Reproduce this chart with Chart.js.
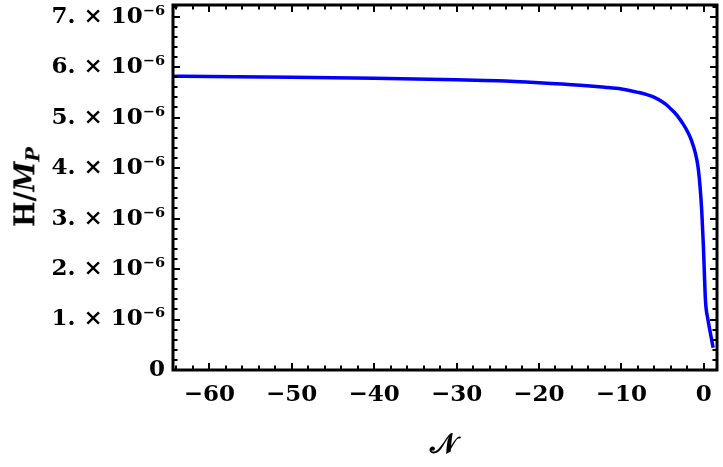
<!DOCTYPE html>
<html>
<head>
<meta charset="utf-8">
<script src="https://cdn.jsdelivr.net/npm/chart.js@4.4.1/dist/chart.umd.min.js"></script>
<style>
html,body{margin:0;padding:0;background:#fff;}
#wrap{position:relative;width:723px;height:467px;overflow:hidden;}
#c{position:absolute;left:0;top:0;}
.ytitle{position:absolute;left:27px;top:187px;transform:translate(-50%,-50%) rotate(-90deg);font-family:"DejaVu Serif";font-weight:bold;font-size:27px;white-space:nowrap;color:#000;line-height:1;}
.ytitle sub{font-size:0.72em;vertical-align:-0.25em;}
.xtitle{position:absolute;left:443px;top:444px;transform:translate(-50%,-50%);font-family:"DejaVu Serif";font-weight:bold;font-size:28px;color:#000;line-height:1;}
</style>
</head>
<body>
<div id="wrap">
<canvas id="c" width="723" height="467"></canvas>
<div class="ytitle">H/<i>M</i><sub><i>P</i></sub></div>
<div class="xtitle">𝒩</div>
</div>
<script>
// ---- data ----
const N_VALUES = [-64.4, -60, -50, -40, -30, -25, -20, -15, -12, -10, -8, -7, -6, -5, -4.5, -4, -3.5, -3, -2.5, -2, -1.5, -1.0, -0.7, -0.45, -0.25, -0.05, 0.2, 0.5, 0.8, 1.13];
const H_VALUES = [5.82e-6, 5.815e-6, 5.80e-6, 5.78e-6, 5.75e-6, 5.73e-6, 5.69e-6, 5.64e-6, 5.60e-6, 5.565e-6, 5.50e-6, 5.46e-6, 5.40e-6, 5.31e-6, 5.25e-6, 5.17e-6, 5.09e-6, 4.99e-6, 4.87e-6, 4.73e-6, 4.55e-6, 4.28e-6, 4.02e-6, 3.62e-6, 3.15e-6, 2.45e-6, 1.38e-6, 1.00e-6, 0.73e-6, 0.44e-6];
const X_TICK_VALUES = [-60, -50, -40, -30, -20, -10, 0];
const X_TICK_LABELS = ['−60', '−50', '−40', '−30', '−20', '−10', '0'];
const Y_TICK_VALUES = [0, 1, 2, 3, 4, 5, 6, 7]; // in units of 1e-6
const Y_TICK_LABELS = ['0', '1. × 10⁻⁶', '2. × 10⁻⁶', '3. × 10⁻⁶', '4. × 10⁻⁶', '5. × 10⁻⁶', '6. × 10⁻⁶', '7. × 10⁻⁶'];
const X_RANGE = [-64.4, 1.6];
const Y_RANGE = [0, 7.23e-6];
const X_MINOR_STEP = 2;
const Y_MINOR_STEP = 0.2e-6;

const tickFont = {family: 'DejaVu Serif', weight: 'bold', size: 23};

const frameTicks = {
  id: 'frameTicks',
  afterDatasetsDraw(chart) {
    const {ctx, chartArea: a, scales: {x, y}} = chart;
    ctx.save();
    ctx.strokeStyle = '#000';
    ctx.lineWidth = 2;
    ctx.beginPath();
    const kx0 = Math.ceil(X_RANGE[0] / X_MINOR_STEP), kx1 = Math.floor(X_RANGE[1] / X_MINOR_STEP);
    for (let k = kx0; k <= kx1; k++) {
      const v = k * X_MINOR_STEP;
      const px = Math.round(x.getPixelForValue(v));
      const len = (v % 10 === 0) ? 7 : 4.5;
      ctx.moveTo(px, a.bottom); ctx.lineTo(px, a.bottom - len);
      ctx.moveTo(px, a.top); ctx.lineTo(px, a.top + len);
    }
    const ky1 = Math.floor(Y_RANGE[1] / Y_MINOR_STEP + 1e-6);
    for (let k = 0; k <= ky1; k++) {
      const py = Math.round(y.getPixelForValue(k * Y_MINOR_STEP));
      const len = (k % 5 === 0) ? 7 : 4.5;
      ctx.moveTo(a.left, py); ctx.lineTo(a.left + len, py);
      ctx.moveTo(a.right, py); ctx.lineTo(a.right - len, py);
    }
    ctx.stroke();
    ctx.lineWidth = 3;
    ctx.strokeRect(a.left, a.top, a.right - a.left, a.bottom - a.top);
    ctx.restore();
  }
};

new Chart(document.getElementById('c'), {
  type: 'line',
  data: {
    datasets: [{
      data: N_VALUES.map((n, i) => ({x: n, y: H_VALUES[i]})),
      borderColor: 'rgb(0,0,255)',
      borderWidth: 3.5,
      pointRadius: 0,
      fill: false,
      cubicInterpolationMode: 'monotone'
    }]
  },
  options: {
    responsive: false,
    animation: false,
    devicePixelRatio: 1,
    layout: {padding: {top: 5, right: 6, left: 0, bottom: 0}},
    plugins: {legend: {display: false}, tooltip: {enabled: false}},
    scales: {
      x: {
        type: 'linear',
        min: X_RANGE[0], max: X_RANGE[1],
        grid: {display: false, drawTicks: false},
        border: {display: false},
        afterFit: s => { s.height = 97; s.paddingLeft = 0; s.paddingRight = 0; },
        afterBuildTicks: s => { s.ticks = X_TICK_VALUES.map(v => ({value: v})); },
        ticks: {
          font: tickFont, color: '#000', padding: 11, maxRotation: 0, autoSkip: false,
          callback: (v) => X_TICK_LABELS[X_TICK_VALUES.indexOf(Math.round(v))]
        }
      },
      y: {
        min: Y_RANGE[0], max: Y_RANGE[1],
        grid: {display: false, drawTicks: false},
        border: {display: false},
        afterFit: s => { s.width = 173; s.paddingTop = 0; s.paddingBottom = 0; },
        afterBuildTicks: s => { s.ticks = Y_TICK_VALUES.map(v => ({value: v * 1e-6})); },
        ticks: {
          font: tickFont, color: '#000', padding: 8, autoSkip: false,
          callback: (v) => Y_TICK_LABELS[Y_TICK_VALUES.indexOf(Math.round(v * 1e6))]
        }
      }
    }
  },
  plugins: [frameTicks]
});
</script>
</body>
</html>
